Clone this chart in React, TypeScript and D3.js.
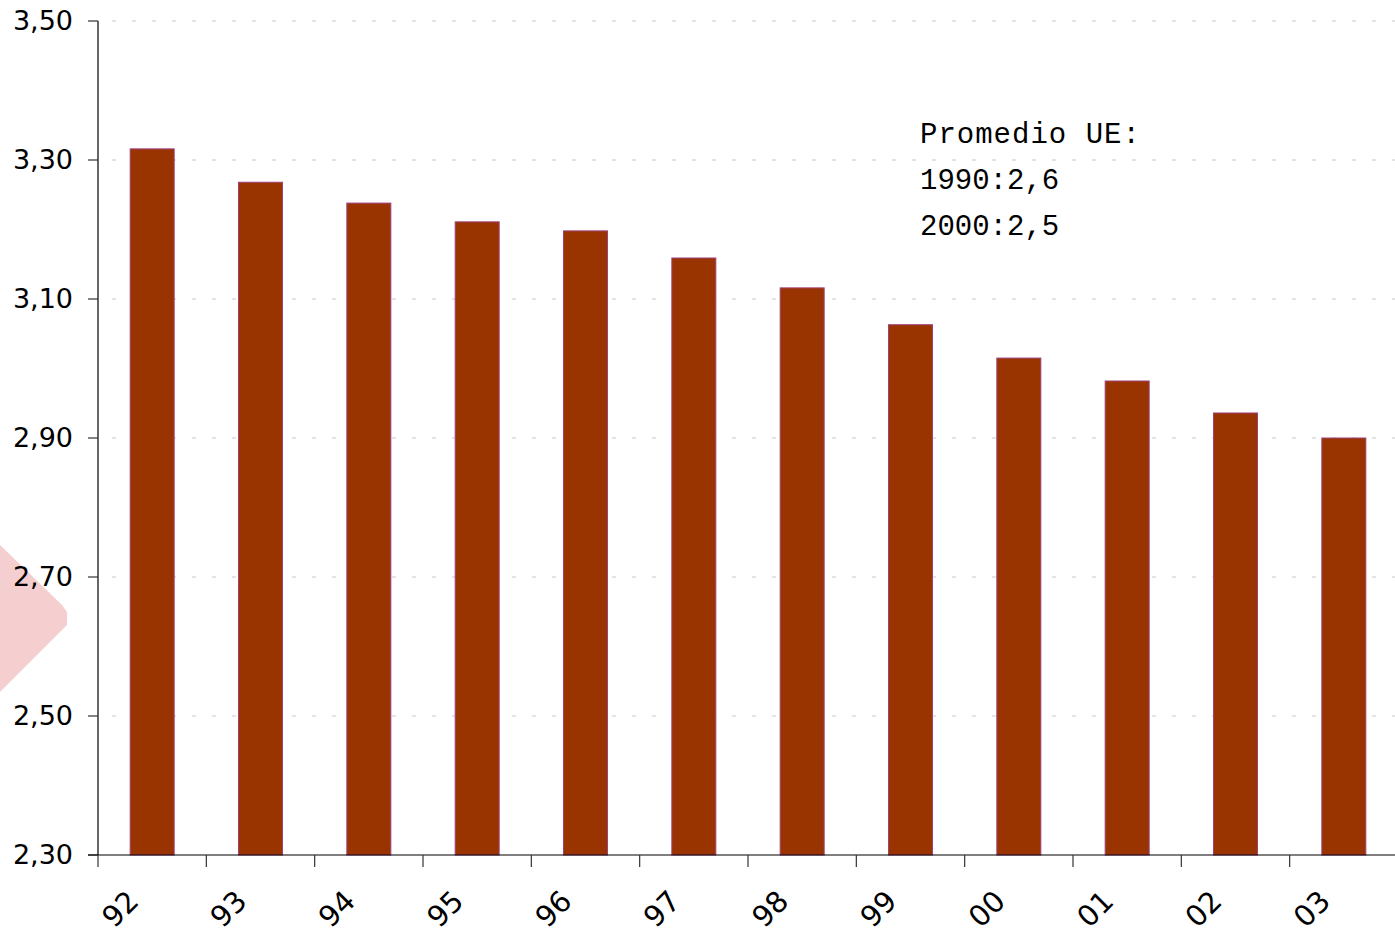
import React from "react";
import * as d3 from "d3";

const categories = ["92", "93", "94", "95", "96", "97", "98", "99", "00", "01", "02", "03"];
const values = [3.316, 3.268, 3.238, 3.211, 3.198, 3.159, 3.116, 3.063, 3.015, 2.982, 2.936, 2.9];
const yTicks = [2.3, 2.5, 2.7, 2.9, 3.1, 3.3, 3.5];
const noteLines = ["Promedio UE:", "1990:2,6", "2000:2,5"];

const W = 1395;
const H = 936;
const left = 98;
const right = 1398;
const top = 21;
const bottom = 855;

export default function App() {
  const x = d3.scaleBand<string>().domain(categories).range([left, right]).paddingInner(0).paddingOuter(0);
  const y = d3.scaleLinear().domain([2.3, 3.5]).range([bottom, top]);
  const bw = 44;
  const fmt = (v: number) => d3.format(".2f")(v).replace(".", ",");

  return (
    <div style={{ position: "absolute", left: 0, top: 0 }}>
      <svg width={W} height={H} style={{ display: "block", background: "#fff" }}>
        {/* pink artifact */}
        <polygon points="0,545 62,605 67,612 67,625 62,630 0,692" fill="#f5cfd0" />
        {/* grid lines */}
        {yTicks.filter((t) => t > 2.3).map((t) => (
          <line key={"g" + t} x1={left} x2={W} y1={y(t)} y2={y(t)} stroke="#c8c8c8" strokeWidth={1} strokeDasharray="4 16" strokeDashoffset={-14} />
        ))}
        {/* bars */}
        {categories.map((c, i) => {
          const bx = (x(c) as number) + (x.bandwidth() - bw) / 2;
          return (
            <rect key={c} x={bx} y={y(values[i])} width={bw} height={bottom - y(values[i])} fill="#993300" stroke="#a0417a" strokeWidth={1} />
          );
        })}
        {/* y axis */}
        <line x1={left} x2={left} y1={top} y2={bottom} stroke="#000" strokeWidth={1.2} />
        {yTicks.map((t) => (
          <g key={"yt" + t}>
            <line x1={left - 10} x2={left} y1={y(t)} y2={y(t)} stroke="#333" strokeWidth={1.2} />
            <text x={73} y={y(t) + 9} textAnchor="end" fontFamily="DejaVu Sans" fontSize={27} fill="#000">
              {fmt(t)}
            </text>
          </g>
        ))}
        {/* x axis */}
        <line x1={left - 10} x2={W} y1={bottom} y2={bottom} stroke="#000" strokeWidth={1.2} />
        {categories.map((c) => {
          const tx = x(c) as number;
          const cx = tx + x.bandwidth() / 2;
          return (
            <g key={"xt" + c}>
              <line x1={tx} x2={tx} y1={bottom} y2={bottom + 12} stroke="#333" strokeWidth={1.2} />
              <text transform={`translate(${cx - 32},${909}) rotate(-45)`} textAnchor="middle" dominantBaseline="central" fontFamily="DejaVu Sans" fontSize={29} fill="#000">
                {c}
              </text>
            </g>
          );
        })}
        {/* annotation */}
        {noteLines.map((l, i) => (
          <text key={"n" + i} x={920} y={143 + i * 46} fontFamily="Liberation Mono" fontSize={29} fill="#000" letterSpacing={i === 0 ? 1 : 0}>
            {l}
          </text>
        ))}
      </svg>
    </div>
  );
}
